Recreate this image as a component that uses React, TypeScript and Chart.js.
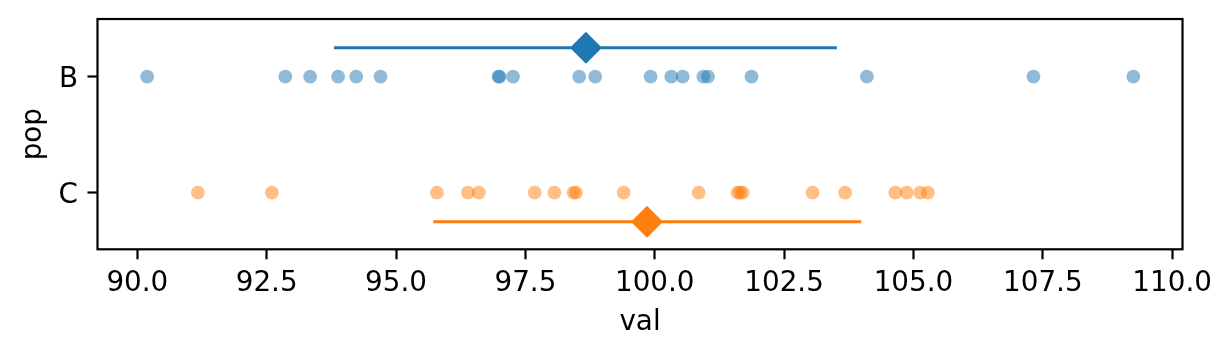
import React, { useEffect, useRef } from "react";
import { Chart, registerables } from "chart.js";

Chart.register(...registerables);

const categories = ["B", "C"];
const bValues = [
  90.19, 92.86, 93.34, 93.88, 94.23, 94.7, 96.98, 97.0, 97.26, 98.54, 98.85,
  99.92, 100.32, 100.54, 100.94, 101.03, 101.87, 104.1, 107.32, 109.25,
];
const cValues = [
  91.17, 92.6, 95.79, 96.39, 96.6, 97.68, 98.06, 98.43, 98.48, 99.4, 100.85,
  101.6, 101.65, 101.7, 103.05, 103.68, 104.65, 104.87, 105.13, 105.28,
];
const means = [98.67, 99.85];
const errLow = [93.8, 95.72];
const errHigh = [103.52, 103.99];
const xTicks = [90, 92.5, 95, 97.5, 100, 102.5, 105, 107.5, 110];
const xLimits = [89.23, 110.2];
const yLimits = [-0.497, 1.488];

const DODGE = 0.25;
const FONT = { family: "'DejaVu Sans', sans-serif", size: 27.8 };
const solid = ["#1f77b4", "#ff7f0e"];
const faded = ["rgba(31,119,180,0.5)", "rgba(255,127,14,0.5)"];

const framePlugin = {
  id: "frame",
  afterDraw(chart: any) {
    const { ctx, chartArea } = chart;
    ctx.save();
    ctx.strokeStyle = "#000";
    ctx.lineWidth = 2.2;
    ctx.strokeRect(
      chartArea.left,
      chartArea.top,
      chartArea.right - chartArea.left,
      chartArea.bottom - chartArea.top
    );
    ctx.restore();
  },
};

const zeroPad = (s: any) => {
  s.paddingTop = 0;
  s.paddingBottom = 0;
  s.paddingLeft = 0;
  s.paddingRight = 0;
};

export default function App() {
  const ref = useRef<HTMLCanvasElement>(null);

  useEffect(() => {
    const series = [bValues, cValues];
    const datasets: any[] = [];
    // mean diamonds (on top)
    series.forEach((_, i) => {
      const off = i === 0 ? -DODGE : DODGE;
      datasets.push({
        type: "scatter",
        data: [{ x: means[i], y: i + off }],
        pointStyle: "rectRot",
        pointRadius: 16,
        backgroundColor: solid[i],
        borderWidth: 0,
      });
    });
    // error bars
    series.forEach((_, i) => {
      const off = i === 0 ? -DODGE : DODGE;
      datasets.push({
        type: "line",
        data: [
          { x: errLow[i], y: i + off },
          { x: errHigh[i], y: i + off },
        ],
        borderColor: solid[i],
        borderWidth: 3,
        pointRadius: 0,
        fill: false,
      });
    });
    // strip points
    series.forEach((vals, i) => {
      datasets.push({
        type: "scatter",
        data: vals.map((v) => ({ x: v, y: i })),
        pointRadius: 6.9,
        backgroundColor: faded[i],
        borderWidth: 0,
      });
    });

    const chart = new Chart(ref.current!, {
      type: "scatter",
      data: { datasets },
      plugins: [framePlugin],
      options: {
        responsive: false,
        animation: false,
        events: [],
        layout: { padding: { top: 19, right: 48.5, left: 0, bottom: 0 } },
        plugins: { legend: { display: false }, tooltip: { enabled: false } },
        scales: {
          x: {
            type: "linear",
            position: "bottom",
            min: xLimits[0],
            max: xLimits[1],
            afterBuildTicks: (s: any) => {
              s.ticks = xTicks.map((v) => ({ value: v }));
            },
            afterFit: (s: any) => {
              s.height = 357 - 249.3;
              zeroPad(s);
            },
            ticks: {
              callback: (v: any) => Number(v).toFixed(1),
              font: FONT,
              color: "#000",
              padding: 7.7,
              maxRotation: 0,
              autoSkip: false,
            },
            grid: {
              display: true,
              drawOnChartArea: false,
              drawTicks: true,
              tickLength: 10,
              tickWidth: 2.2,
              tickColor: "#000",
            },
            border: { display: false },
            title: {
              display: true,
              text: "val",
              font: FONT,
              color: "#000",
              padding: { top: 0, bottom: 18 },
            },
          },
          y: {
            type: "linear",
            position: "left",
            reverse: true,
            min: yLimits[0],
            max: yLimits[1],
            afterBuildTicks: (s: any) => {
              s.ticks = categories.map((_, i) => ({ value: i }));
            },
            afterFit: (s: any) => {
              s.width = 97.5;
              zeroPad(s);
            },
            ticks: {
              callback: (v: any) => categories[v],
              font: FONT,
              color: "#000",
              padding: 9.5,
              labelOffset: 3,
            },
            grid: {
              display: true,
              drawOnChartArea: false,
              drawTicks: true,
              tickLength: 10,
              tickWidth: 2.2,
              tickColor: "#000",
            },
            border: { display: false },
            title: {
              display: true,
              text: "pop",
              font: FONT,
              color: "#000",
              padding: { top: 17, bottom: 0 },
            },
          },
        },
      },
    });
    return () => chart.destroy();
  }, []);

  return (
    <div style={{ position: "fixed", left: 0, top: 0, width: 1231, height: 357, background: "#fff" }}>
      <canvas ref={ref} width={1231} height={357} style={{ display: "block" }} />
    </div>
  );
}
